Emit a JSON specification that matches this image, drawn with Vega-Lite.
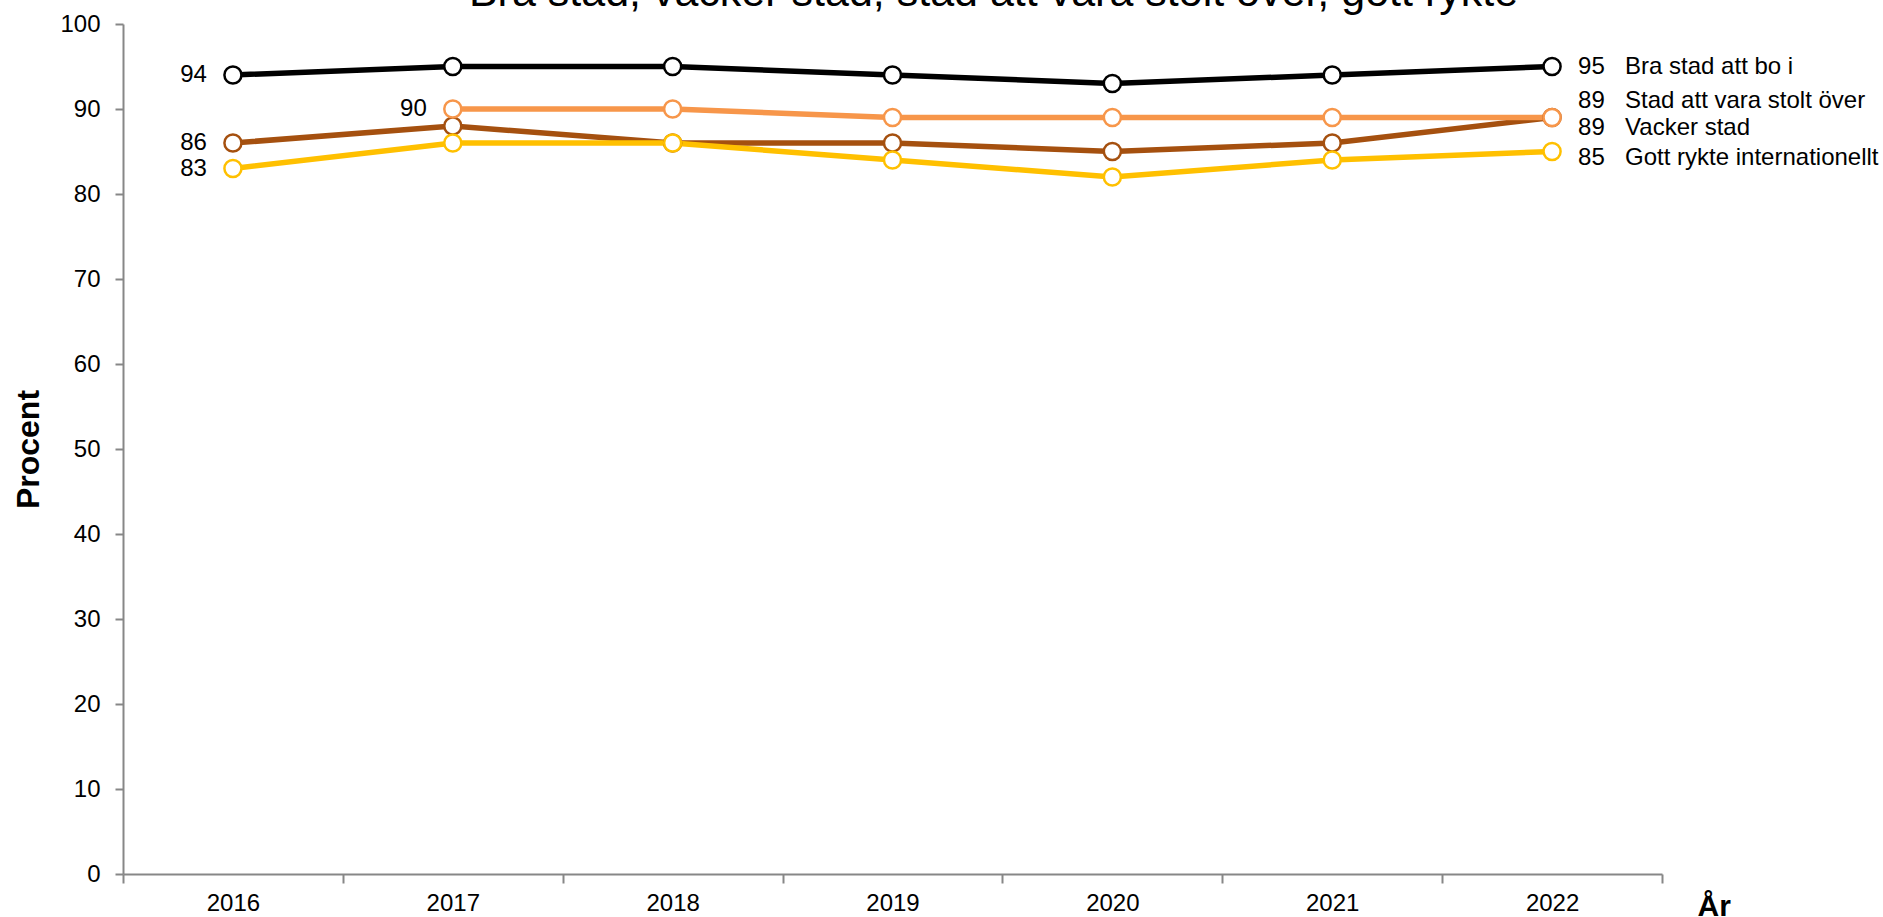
{
  "$schema": "https://vega.github.io/schema/vega-lite/v6.json",
  "width": 1539,
  "height": 850,
  "autosize": {"type": "none"},
  "padding": {"left": 123, "top": 24, "right": 221, "bottom": 43},
  "background": "white",
  "config": {
    "view": {"stroke": null},
    "font": "Liberation Sans"
  },
  "title": {
    "text": "Bra stad, vacker stad, stad att vara stolt över, gott rykte",
    "font": "Liberation Sans",
    "fontSize": 43,
    "fontWeight": "normal",
    "color": "#000000",
    "anchor": "middle",
    "frame": "group",
    "baseline": "alphabetic",
    "offset": 2,
    "dx": 101,
    "dy": 39
  },
  "data": {
    "values": [
      {"series": "Bra stad att bo i", "year": "2016", "value": 94},
      {"series": "Bra stad att bo i", "year": "2017", "value": 95},
      {"series": "Bra stad att bo i", "year": "2018", "value": 95},
      {"series": "Bra stad att bo i", "year": "2019", "value": 94},
      {"series": "Bra stad att bo i", "year": "2020", "value": 93},
      {"series": "Bra stad att bo i", "year": "2021", "value": 94},
      {"series": "Bra stad att bo i", "year": "2022", "value": 95},
      {"series": "Vacker stad", "year": "2016", "value": 86},
      {"series": "Vacker stad", "year": "2017", "value": 88},
      {"series": "Vacker stad", "year": "2018", "value": 86},
      {"series": "Vacker stad", "year": "2019", "value": 86},
      {"series": "Vacker stad", "year": "2020", "value": 85},
      {"series": "Vacker stad", "year": "2021", "value": 86},
      {"series": "Vacker stad", "year": "2022", "value": 89},
      {"series": "Stad att vara stolt över", "year": "2017", "value": 90},
      {"series": "Stad att vara stolt över", "year": "2018", "value": 90},
      {"series": "Stad att vara stolt över", "year": "2019", "value": 89},
      {"series": "Stad att vara stolt över", "year": "2020", "value": 89},
      {"series": "Stad att vara stolt över", "year": "2021", "value": 89},
      {"series": "Stad att vara stolt över", "year": "2022", "value": 89},
      {"series": "Gott rykte internationellt", "year": "2016", "value": 83},
      {"series": "Gott rykte internationellt", "year": "2017", "value": 86},
      {"series": "Gott rykte internationellt", "year": "2018", "value": 86},
      {"series": "Gott rykte internationellt", "year": "2019", "value": 84},
      {"series": "Gott rykte internationellt", "year": "2020", "value": 82},
      {"series": "Gott rykte internationellt", "year": "2021", "value": 84},
      {"series": "Gott rykte internationellt", "year": "2022", "value": 85}
    ]
  },
  "encoding": {
    "x": {
      "field": "year",
      "type": "ordinal",
      "scale": {"type": "band", "paddingInner": 0, "paddingOuter": 0},
      "axis": {
        "title": "År",
        "titleFont": "Liberation Sans",
        "titleFontSize": 30,
        "titleFontWeight": "bold",
        "titleColor": "#000000",
        "titleAnchor": "start",
        "titleAlign": "left",
        "titleBaseline": "alphabetic",
        "titleX": 1574,
        "titleY": 41,
        "labelAngle": 0,
        "labelFontSize": 24,
        "labelColor": "#000000",
        "labelPadding": 8,
        "tickBand": "extent",
        "tickSize": 9,
        "tickWidth": 2,
        "tickColor": "#878787",
        "domainColor": "#878787",
        "domainWidth": 2,
        "grid": false
      }
    },
    "y": {
      "field": "value",
      "type": "quantitative",
      "scale": {"domain": [0, 100], "nice": false, "zero": true},
      "axis": {
        "title": "Procent",
        "titleFont": "Liberation Sans",
        "titleFontSize": 32,
        "titleFontWeight": "bold",
        "titleColor": "#000000",
        "titlePadding": 14,
        "values": [0, 10, 20, 30, 40, 50, 60, 70, 80, 90, 100],
        "labelFontSize": 24,
        "labelColor": "#000000",
        "labelPadding": 15,
        "tickSize": 8,
        "tickWidth": 2,
        "tickColor": "#878787",
        "domainColor": "#878787",
        "domainWidth": 2,
        "grid": false
      }
    },
    "color": {
      "field": "series",
      "type": "nominal",
      "scale": {
        "domain": ["Bra stad att bo i", "Vacker stad", "Stad att vara stolt över", "Gott rykte internationellt"],
        "range": ["#000000", "#A5500F", "#F7964A", "#FFC000"]
      },
      "legend": null
    }
  },
  "layer": [
    {
      "mark": {"type": "line", "strokeWidth": 5.5}
    },
    {
      "mark": {"type": "point", "shape": "circle", "filled": false, "fill": "white", "fillOpacity": 1, "opacity": 1, "size": 290, "strokeWidth": 2.5}
    },
    {
      "transform": [{"filter": "(datum.year == '2016' && datum.series != 'Stad att vara stolt över') || (datum.year == '2017' && datum.series == 'Stad att vara stolt över')"}],
      "mark": {"type": "text", "align": "right", "baseline": "middle", "dx": -26, "fontSize": 24, "color": "#000000"},
      "encoding": {"text": {"field": "value", "type": "quantitative"}, "color": {"value": "#000000"}}
    },
    {
      "transform": [{"filter": "datum.year == '2022' && datum.series == 'Bra stad att bo i'"}],
      "mark": {"type": "text", "align": "left", "baseline": "middle", "dx": 26, "dy": 0, "fontSize": 24},
      "encoding": {"text": {"field": "value", "type": "quantitative"}, "color": {"value": "#000000"}}
    },
    {
      "transform": [{"filter": "datum.year == '2022' && datum.series == 'Bra stad att bo i'"}],
      "mark": {"type": "text", "align": "left", "baseline": "middle", "dx": 73, "dy": 0, "fontSize": 24},
      "encoding": {"text": {"field": "series", "type": "nominal"}, "color": {"value": "#000000"}}
    },
    {
      "transform": [{"filter": "datum.year == '2022' && datum.series == 'Stad att vara stolt över'"}],
      "mark": {"type": "text", "align": "left", "baseline": "middle", "dx": 26, "dy": -17, "fontSize": 24},
      "encoding": {"text": {"field": "value", "type": "quantitative"}, "color": {"value": "#000000"}}
    },
    {
      "transform": [{"filter": "datum.year == '2022' && datum.series == 'Stad att vara stolt över'"}],
      "mark": {"type": "text", "align": "left", "baseline": "middle", "dx": 73, "dy": -17, "fontSize": 24},
      "encoding": {"text": {"field": "series", "type": "nominal"}, "color": {"value": "#000000"}}
    },
    {
      "transform": [{"filter": "datum.year == '2022' && datum.series == 'Vacker stad'"}],
      "mark": {"type": "text", "align": "left", "baseline": "middle", "dx": 26, "dy": 10, "fontSize": 24},
      "encoding": {"text": {"field": "value", "type": "quantitative"}, "color": {"value": "#000000"}}
    },
    {
      "transform": [{"filter": "datum.year == '2022' && datum.series == 'Vacker stad'"}],
      "mark": {"type": "text", "align": "left", "baseline": "middle", "dx": 73, "dy": 10, "fontSize": 24},
      "encoding": {"text": {"field": "series", "type": "nominal"}, "color": {"value": "#000000"}}
    },
    {
      "transform": [{"filter": "datum.year == '2022' && datum.series == 'Gott rykte internationellt'"}],
      "mark": {"type": "text", "align": "left", "baseline": "middle", "dx": 26, "dy": 6, "fontSize": 24},
      "encoding": {"text": {"field": "value", "type": "quantitative"}, "color": {"value": "#000000"}}
    },
    {
      "transform": [{"filter": "datum.year == '2022' && datum.series == 'Gott rykte internationellt'"}],
      "mark": {"type": "text", "align": "left", "baseline": "middle", "dx": 73, "dy": 6, "fontSize": 24},
      "encoding": {"text": {"field": "series", "type": "nominal"}, "color": {"value": "#000000"}}
    }
  ]
}
